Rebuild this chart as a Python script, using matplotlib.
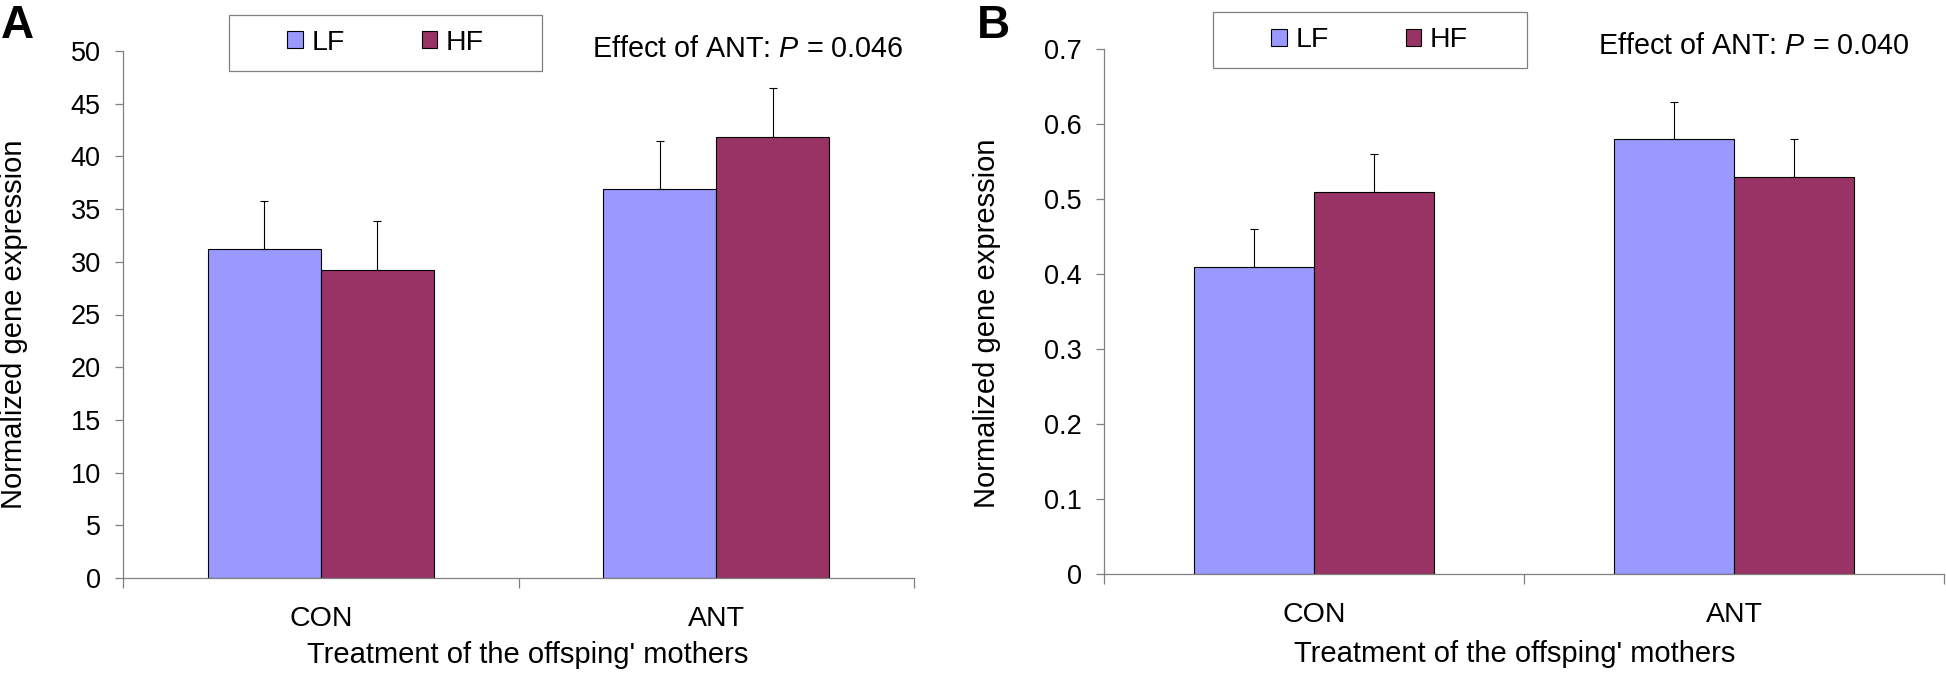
import numpy as np
import matplotlib.pyplot as plt
from matplotlib.patches import Rectangle

plt.rcParams['font.family'] = ['Liberation Sans', 'DejaVu Sans']
plt.rcParams['mathtext.fontset'] = 'custom'
plt.rcParams['mathtext.it'] = 'Liberation Sans:italic'
plt.rcParams['mathtext.rm'] = 'Liberation Sans'

# data
groups = ['CON', 'ANT']
series = ['LF', 'HF']

a_lf = [31.2, 36.9]
a_lf_err = [4.6, 4.6]
a_hf = [29.2, 41.8]
a_hf_err = [4.7, 4.7]
a_yticks = [0, 5, 10, 15, 20, 25, 30, 35, 40, 45, 50]
a_p = '0.046'

b_lf = [0.41, 0.58]
b_lf_err = [0.05, 0.05]
b_hf = [0.51, 0.53]
b_hf_err = [0.05, 0.05]
b_yticks = [0, 0.1, 0.2, 0.3, 0.4, 0.5, 0.6, 0.7]
b_p = '0.040'

LF_COL = '#9999FF'
HF_COL = '#993366'
AX_COL = '#808080'

W, H = 1946, 676
fig = plt.figure(figsize=(W / 100, H / 100), dpi=100)


def px(x, y):
    # pixel position (from top-left) -> figure fraction
    return x / W, 1 - y / H


def panel(rect, lf, lf_err, hf, hf_err, yticks, xmax, ylab_xy, xlab_xy):
    ax = fig.add_axes(rect)
    x = np.arange(len(groups))
    w = 1 / 3.5
    ax.bar(x - w / 2, lf, w, color=LF_COL, edgecolor='black', linewidth=0.8, label=series[0], zorder=2)
    ax.bar(x + w / 2, hf, w, color=HF_COL, edgecolor='black', linewidth=0.8, label=series[1], zorder=2)
    ax.errorbar(x - w / 2, lf, yerr=[np.zeros(len(lf)), lf_err], fmt='none', ecolor='black',
                elinewidth=0.8, capsize=2.7, capthick=0.8, zorder=3)
    ax.errorbar(x + w / 2, hf, yerr=[np.zeros(len(hf)), hf_err], fmt='none', ecolor='black',
                elinewidth=0.8, capsize=2.7, capthick=0.8, zorder=3)

    ax.set_xlim(-0.5, xmax)
    ax.set_ylim(yticks[0], yticks[-1])
    ax.set_yticks(yticks, [f'{v:g}' for v in yticks])
    ax.set_xticks(x, groups)
    ax.set_xticks([-0.5, 0.5, 1.5], minor=True)
    ax.tick_params(axis='y', length=5.8, width=0.9, color=AX_COL, pad=10.5, labelsize=19.5)
    ax.tick_params(axis='x', which='major', length=0, pad=20, labelsize=20.5)
    ax.tick_params(axis='x', which='minor', length=7, width=0.9, color=AX_COL)
    for s in ['top', 'right']:
        ax.spines[s].set_visible(False)
    for s in ['left', 'bottom']:
        ax.spines[s].set_color(AX_COL)
        ax.spines[s].set_linewidth(0.9)

    ax.set_ylabel('Normalized gene expression', fontsize=21)
    ax.yaxis.set_label_coords(*ylab_xy)
    ax.set_xlabel("Treatment of the offsping' mothers", fontsize=21)
    ax.xaxis.set_label_coords(*xlab_xy)
    return ax


ax_a = panel([123.3 / W, 1 - 578 / H, (914 - 123.3) / W, 527 / H],
             a_lf, a_lf_err, a_hf, a_hf_err, a_yticks, 1.3675,
             (-0.1205, 0.482), (0.511, -0.119))
ax_b = panel([1104.3 / W, 1 - 574 / H, (1944 - 1104.3) / W, 525 / H],
             b_lf, b_lf_err, b_hf, b_hf_err, b_yticks, 1.458,
             (-0.1227, 0.478), (0.4886, -0.125))

# legends in their own boxes
for ax, (x0, y0, x1, y1) in [(ax_a, (229.3, 15, 541.7, 70.7)), (ax_b, (1212.7, 12, 1526.7, 68.3))]:
    ax.legend(ncol=2, loc='center', bbox_to_anchor=px((x0 + x1) / 2, (y0 + y1) / 2),
              bbox_transform=fig.transFigure, frameon=False, fontsize=20.5,
              handlelength=0.55, handleheight=0.55, handletextpad=0.3, columnspacing=2.7)
    fig.add_artist(Rectangle(px(x0, y1), (x1 - x0) / W, (y1 - y0) / H, transform=fig.transFigure,
                             fill=False, edgecolor=AX_COL, linewidth=0.9))

fig.text(*px(591.7, 57.3), f'Effect of ANT: $P$ = {a_p}', fontsize=20.7, va='baseline', ha='left')
fig.text(*px(1598, 54.5), f'Effect of ANT: $P$ = {b_p}', fontsize=20.7, va='baseline', ha='left')

fig.text(*px(1, 38.3), 'A', fontsize=33, fontweight='bold', va='baseline', ha='left')
fig.text(*px(977, 38.5), 'B', fontsize=33, fontweight='bold', va='baseline', ha='left')

fig.savefig('out.png', dpi=100)
